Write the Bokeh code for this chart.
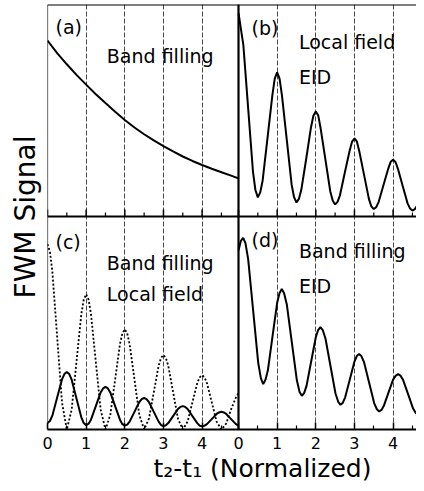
from bokeh.plotting import figure
from bokeh.models import Range1d, FixedTicker, CustomJSTickFormatter, Span, Label, Title
from bokeh.embed import file_html
from bokeh.resources import INLINE

# ---------------- data ----------------
# panel (a): Band filling
a_x = [0, 0.25, 0.5, 0.75, 1, 1.25, 1.5, 1.75, 2, 2.25, 2.5, 2.75, 3, 3.25, 3.5, 3.75, 4, 4.25, 4.5, 4.75, 4.94]
a_y = [0.830, 0.771, 0.718, 0.668, 0.622, 0.577, 0.535, 0.494, 0.455, 0.420, 0.388, 0.359, 0.332, 0.307,
       0.283, 0.262, 0.243, 0.225, 0.209, 0.193, 0.180]

# panel (b): Local field + EID
b_x = [0, 0.125, 0.25, 0.375, 0.4375, 0.5, 0.5625, 0.625, 0.75, 0.875,
       0.9375, 1.0, 1.0625, 1.125, 1.25, 1.375, 1.4375, 1.5, 1.5625, 1.625,
       1.75, 1.875, 1.9375, 2.0, 2.0625, 2.125, 2.25, 2.375, 2.4375, 2.5,
       2.5625, 2.625, 2.75, 2.875, 2.9375, 3.0, 3.0625, 3.125, 3.25, 3.375,
       3.4375, 3.5, 3.5625, 3.625, 3.75, 3.875, 3.9375, 4.0, 4.0625, 4.125,
       4.25, 4.375, 4.4375, 4.5, 4.5625, 4.625, 4.75, 4.875]
b_y = [0.96, 0.81, 0.51, 0.21, 0.125, 0.09, 0.114, 0.17, 0.37, 0.57,
       0.65, 0.68, 0.65, 0.57, 0.36, 0.15, 0.091, 0.066, 0.083, 0.126,
       0.27, 0.42, 0.475, 0.495, 0.477, 0.416, 0.267, 0.118, 0.075, 0.057,
       0.069, 0.10, 0.206, 0.31, 0.353, 0.368, 0.354, 0.308, 0.195, 0.082,
       0.048, 0.035, 0.044, 0.068, 0.147, 0.226, 0.258, 0.268, 0.257, 0.225,
       0.143, 0.062, 0.038, 0.028, 0.035, 0.052, 0.111, 0.169]

# panel (c): Band filling + Local field (solid) and dotted curve
c_x = [0, 0.0625, 0.125, 0.25, 0.375, 0.4375, 0.5, 0.5625, 0.625, 0.75,
       0.875, 0.9375, 1.0, 1.0625, 1.125, 1.25, 1.375, 1.4375, 1.5, 1.5625,
       1.625, 1.75, 1.875, 1.9375, 2.0, 2.0625, 2.125, 2.25, 2.375, 2.4375,
       2.5, 2.5625, 2.625, 2.75, 2.875, 2.9375, 3.0, 3.0625, 3.125, 3.25,
       3.375, 3.4375, 3.5, 3.5625, 3.625, 3.75, 3.875, 3.9375, 4.0, 4.0625,
       4.125, 4.25, 4.375, 4.4375, 4.5, 4.5625, 4.625, 4.75, 4.875, 4.94]
c_y = [0.03, 0.04, 0.065, 0.15, 0.235, 0.26, 0.27, 0.26, 0.234, 0.145,
       0.057, 0.03, 0.02, 0.027, 0.046, 0.11, 0.174, 0.193, 0.20, 0.193,
       0.174, 0.11, 0.046, 0.025, 0.018, 0.023, 0.037, 0.083, 0.129, 0.143,
       0.148, 0.143, 0.129, 0.083, 0.037, 0.021, 0.016, 0.02, 0.03, 0.063,
       0.096, 0.106, 0.11, 0.106, 0.096, 0.063, 0.03, 0.018, 0.015, 0.018,
       0.025, 0.049, 0.073, 0.08, 0.083, 0.08, 0.073, 0.049, 0.025, 0.018]

c2_x = [0, 0.0625, 0.125, 0.25, 0.375, 0.5, 0.625, 0.75, 0.875, 0.9375,
        1.0, 1.0625, 1.125, 1.25, 1.375, 1.5, 1.625, 1.75, 1.875, 1.9375,
        2.0, 2.0625, 2.125, 2.25, 2.375, 2.5, 2.625, 2.75, 2.875, 2.9375,
        3.0, 3.0625, 3.125, 3.25, 3.375, 3.5, 3.625, 3.75, 3.875, 3.9375,
        4.0, 4.0625, 4.125, 4.25, 4.375, 4.5, 4.625, 4.75, 4.875, 4.94]
c2_y = [0.87, 0.835, 0.743, 0.435, 0.127, 0.0, 0.093, 0.318, 0.542, 0.61,
        0.635, 0.61, 0.542, 0.318, 0.093, 0.0, 0.069, 0.235, 0.401, 0.451,
        0.47, 0.451, 0.401, 0.235, 0.069, 0.0, 0.051, 0.175, 0.299, 0.336,
        0.35, 0.336, 0.299, 0.175, 0.051, 0.0, 0.037, 0.128, 0.218, 0.245,
        0.255, 0.245, 0.218, 0.128, 0.037, 0.0, 0.028, 0.095, 0.15, 0.17]

# panel (d): Band filling + EID
d_x = [0, 0.06, 0.12, 0.18, 0.25, 0.38, 0.51, 0.58, 0.64, 0.70,
       0.76, 0.88, 1.0, 1.06, 1.12, 1.18, 1.25, 1.38, 1.51, 1.58,
       1.64, 1.70, 1.76, 1.88, 2.0, 2.06, 2.12, 2.18, 2.25, 2.38,
       2.51, 2.58, 2.64, 2.70, 2.76, 2.88, 3.0, 3.06, 3.12, 3.18,
       3.25, 3.38, 3.51, 3.58, 3.64, 3.70, 3.76, 3.88, 4.0, 4.07,
       4.13, 4.19, 4.26, 4.39, 4.52, 4.59, 4.66, 4.72, 4.78, 4.9]
d_y = [0.84, 0.885, 0.90, 0.875, 0.80, 0.557, 0.313, 0.24, 0.213, 0.235,
       0.278, 0.437, 0.595, 0.64, 0.66, 0.64, 0.587, 0.409, 0.231, 0.176,
       0.158, 0.172, 0.205, 0.319, 0.433, 0.467, 0.48, 0.467, 0.427, 0.298,
       0.169, 0.13, 0.116, 0.126, 0.151, 0.235, 0.319, 0.345, 0.354, 0.345,
       0.315, 0.22, 0.124, 0.095, 0.085, 0.092, 0.111, 0.173, 0.234, 0.253,
       0.26, 0.253, 0.232, 0.165, 0.097, 0.076, 0.069, 0.072, 0.082, 0.12]

major_ticks = [0, 1, 2, 3, 4]
minor_ticks = [0.5, 1.5, 2.5, 3.5, 4.5]
x_title = "t\u2082-t\u2081 (Normalized)"
y_title = "FWM Signal"

# ---------------- layout ----------------
W, H = 416, 483
BL, BR, BT, BB = 47, 0, 4, 54
FW = W - BL - BR
FH = H - BT - BB
UNIT = 38.65          # px per x unit
LEFT_PX = 191         # width of left panels
BOT_PX = 213          # height of bottom panels
TOP_PX = FH - BOT_PX  # height of top panels
D = LEFT_PX / UNIT

FONT = "DejaVu Sans"

p = figure(width=W, height=H, output_backend="svg", toolbar_location=None,
           x_range=Range1d(0, FW / UNIT), y_range=Range1d(0, FH / BOT_PX),
           y_axis_location=None,
           min_border_left=BL, min_border_right=BR, min_border_top=BT, min_border_bottom=BB)
p.extra_x_ranges = {"right": Range1d(-D, (FW - LEFT_PX) / UNIT)}
p.extra_y_ranges = {"top": Range1d(-BOT_PX / TOP_PX, 1.0)}
p.outline_line_color = None
p.background_fill_color = "white"
p.border_fill_color = "white"

all_major = major_ticks + [t + D for t in major_ticks]
all_minor = minor_ticks + [t + D for t in minor_ticks]
ticker = FixedTicker(ticks=all_major, minor_ticks=all_minor)

xa = p.xaxis[0]
xa.ticker = ticker
xa.formatter = CustomJSTickFormatter(args=dict(d=D),
    code="return String(Math.round(tick >= d - 1e-6 ? tick - d : tick));")
xa.axis_line_width = 2
xa.axis_line_color = "black"
xa.major_tick_in = 7
xa.major_tick_out = 0
xa.minor_tick_in = 4
xa.minor_tick_out = 0
xa.major_tick_line_width = 1.5
xa.minor_tick_line_width = 1.2
xa.major_tick_line_color = "black"
xa.minor_tick_line_color = "black"
xa.major_label_text_font = FONT
xa.major_label_text_font_size = "16px"
xa.major_label_text_color = "black"
xa.major_label_standoff = 7

for g in p.xgrid:
    g.ticker = ticker
    g.grid_line_color = "#333333"
    g.grid_line_dash = "5 2"
    g.grid_line_width = 0.9
for g in p.ygrid:
    g.visible = False

# frame lines
p.add_layout(Span(location=0, dimension="height", line_color="black", line_width=1.2))
p.add_layout(Span(location=0, dimension="height", x_range_name="right", line_color="black", line_width=2.2))
p.add_layout(Span(location=0, dimension="width", y_range_name="top", line_color="black", line_width=2))
p.add_layout(Span(location=1.0, dimension="width", y_range_name="top", line_color="black", line_width=2))

# inner tick marks on the middle line (bottom axis of the top panels)
p.segment(x0=all_major, y0=[0] * len(all_major), x1=all_major, y1=[7 / TOP_PX] * len(all_major),
          y_range_name="top", line_color="black", line_width=1.5)
p.segment(x0=all_minor, y0=[0] * len(all_minor), x1=all_minor, y1=[4 / TOP_PX] * len(all_minor),
          y_range_name="top", line_color="black", line_width=1.2)

# curves
p.line(a_x, a_y, y_range_name="top", line_color="black", line_width=2)
p.line(b_x, b_y, x_range_name="right", y_range_name="top", line_color="black", line_width=2)
p.line(c2_x, c2_y, line_color="black", line_width=1.8, line_dash="2 2")
p.line(c_x, c_y, line_color="black", line_width=2)
p.line(d_x, d_y, x_range_name="right", line_color="black", line_width=2)

def lab(x, y, text, xr="default", yr="default"):
    p.add_layout(Label(x=x, y=y, text=text, x_range_name=xr, y_range_name=yr,
                       text_font=FONT, text_font_size="19px", text_color="black",
                       text_align="left", text_baseline="alphabetic"))

lab(0.207, 0.896, "(a)", yr="top")
lab(1.535, 0.759, "Band filling", yr="top")
lab(0.336, 0.891, "(b)", xr="right", yr="top")
lab(1.563, 0.825, "Local field", xr="right", yr="top")
lab(1.563, 0.660, "EID", xr="right", yr="top")
lab(0.207, 0.882, "(c)")
lab(1.535, 0.784, "Band filling")
lab(1.535, 0.634, "Local field")
lab(0.336, 0.892, "(d)", xr="right")
lab(1.563, 0.836, "Band filling", xr="right")
lab(1.563, 0.676, "EID", xr="right")

# axis titles
p.add_layout(Title(text=x_title, align="left", offset=106, standoff=0,
                   text_font=FONT, text_font_size="25px", text_font_style="normal",
                   text_color="black"), "below")
p.add_layout(Title(text=y_title, align="center", offset=-6, standoff=12,
                   text_font=FONT, text_font_size="28px", text_font_style="normal",
                   text_color="black"), "left")

open("out.html", "w").write(file_html(p, INLINE))
